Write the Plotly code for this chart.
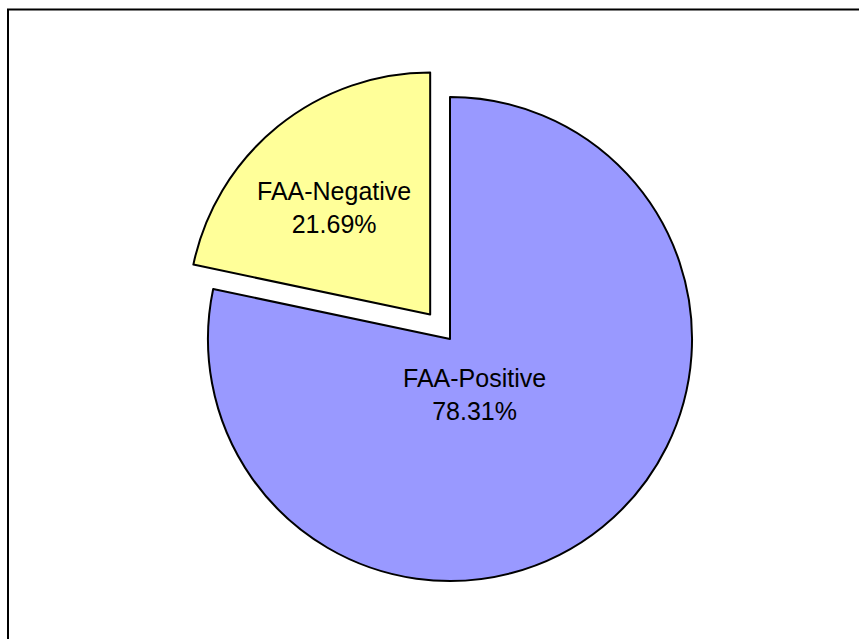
import math
import plotly.graph_objects as go

labels = ["FAA-Positive", "FAA-Negative"]
values = [78.31, 21.69]
colors = ["#9999FF", "#FFFF99"]
pulls = [0.0, 0.13]

# label placement (style): radius fraction from slice apex, angle shift from bisector (deg)
label_radius = [0.25, 0.593]
label_angle_shift = [15.5, -3.0]

W, H = 859, 639
# pie box (pixels)
cx, cy, box = 450, 339, 547
dx = [(cx - box / 2) / W, (cx + box / 2) / W]
dy = [1 - (cy + box / 2) / H, 1 - (cy - box / 2) / H]
r = box / 2 / (1 + max(pulls))

fig = go.Figure(go.Pie(
    labels=labels,
    values=values,
    marker=dict(colors=colors, line=dict(color="black", width=2)),
    pull=pulls,
    sort=False,
    direction="clockwise",
    rotation=0,
    textinfo="none",
    domain=dict(x=dx, y=dy),
    showlegend=False,
    hoverinfo="label+percent",
))

total = sum(values)
annotations = []
acc = 0.0
for lab, v, p, rf, sh in zip(labels, values, pulls, label_radius, label_angle_shift):
    mid = (acc + v / 2) / total * 360.0
    acc += v
    a = math.radians(mid)
    ax = cx + p * r * math.sin(a)
    ay = cy - p * r * math.cos(a)
    b = math.radians(mid + sh)
    lx = ax + rf * r * math.sin(b)
    ly = ay - rf * r * math.cos(b)
    annotations.append(dict(
        x=lx / W, y=1 - ly / H, xref="paper", yref="paper",
        text=f"{lab}<br>{v / total * 100:.2f}%",
        showarrow=False, xanchor="center", yanchor="middle",
        font=dict(family="Liberation Sans, Arial, sans-serif", size=25, color="black"),
    ))

fig.update_layout(
    width=W, height=H,
    margin=dict(l=0, r=0, t=0, b=0),
    paper_bgcolor="white",
    plot_bgcolor="white",
    annotations=annotations,
    shapes=[dict(type="rect", xref="paper", yref="paper",
                 x0=8 / W, x1=1.02, y0=-0.02, y1=1 - 9.5 / H,
                 line=dict(color="black", width=2))],
)

fig.write_html("out.html")
